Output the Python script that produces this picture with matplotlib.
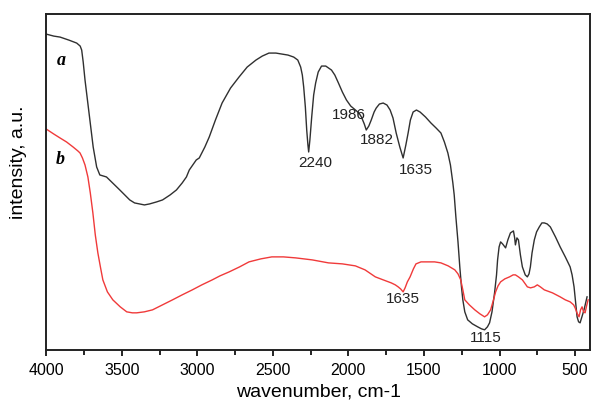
import matplotlib
matplotlib.use("Agg")
import matplotlib.pyplot as plt
from matplotlib.ticker import MultipleLocator

# spectrum a (black)
wn_a = [4000, 3950, 3908, 3850, 3798, 3775, 3765, 3755, 3743, 3727, 3711, 3700,
        3689, 3676, 3666, 3645, 3601, 3560, 3513, 3480, 3447, 3415, 3382, 3350,
        3316, 3270, 3230, 3180, 3138, 3100, 3072, 3053, 3030, 3007, 2987, 2950,
        2921, 2880, 2836, 2780, 2724, 2670, 2612, 2570, 2526, 2480, 2441, 2400,
        2362, 2335, 2316, 2305, 2296, 2285, 2276, 2268, 2263, 2255, 2243, 2230,
        2217, 2200, 2178, 2150, 2112, 2090, 2066, 2040, 2013, 1985, 1954, 1930,
        1914, 1895, 1882, 1865, 1849, 1830, 1816, 1795, 1770, 1745, 1724, 1705,
        1684, 1660, 1638, 1620, 1605, 1590, 1572, 1550, 1526, 1490, 1454, 1420,
        1388, 1365, 1342, 1325, 1309, 1300, 1289, 1275, 1263, 1252, 1243, 1230,
        1211, 1180, 1145, 1120, 1099, 1080, 1066, 1050, 1033, 1020, 1013, 1003,
        993, 980, 960, 945, 928, 908, 900, 895, 885, 875, 862, 849, 830, 816,
        805, 796, 785, 770, 755, 737, 720, 704, 685, 664, 630, 599, 565, 533,
        520, 507, 497, 487, 477, 467, 455, 441, 421]
int_a = [316, 314, 313, 310, 307, 304, 300, 288, 270, 250, 230, 216,
         203, 192, 183, 175, 173, 167, 160, 155, 150, 147, 146, 145,
         146, 148, 150, 155, 160, 167, 173, 180, 185, 190, 192, 203,
         213, 230, 247, 262, 273, 283, 290, 294, 297, 297, 296, 295,
         293, 290, 283, 275, 263, 243, 220, 205, 198, 210, 233, 255,
         267, 278, 284, 284, 280, 275, 267, 258, 250, 244, 240, 237,
         233, 226, 220, 224, 230, 238, 242, 246, 247, 245, 240, 232,
         217, 203, 192, 205, 217, 230, 238, 240, 238, 233, 227, 222,
         217, 208, 197, 185, 167, 155, 133, 108, 83, 63, 50, 38,
         30, 26, 23, 21, 20, 23, 27, 38, 57, 75, 90, 103,
         108, 106, 102, 110, 117, 119, 112, 105, 112, 110, 95, 83, 75, 73,
         76, 83, 97, 110, 118, 123, 127, 127, 126, 123, 113, 103, 93, 83,
         75, 63, 48, 33, 28, 27, 33, 40, 53]

# spectrum b (red)
wn_b = [4000, 3950, 3908, 3865, 3822, 3790, 3776, 3760, 3743, 3724, 3708, 3691,
        3675, 3658, 3640, 3625, 3595, 3559, 3510, 3467, 3430, 3401, 3350, 3296,
        3230, 3164, 3100, 3033, 2970, 2901, 2850, 2789, 2720, 2658, 2580, 2507,
        2430, 2349, 2240, 2132, 2040, 1954, 1890, 1822, 1770, 1717, 1690, 1671,
        1655, 1638, 1625, 1610, 1592, 1570, 1553, 1520, 1474, 1430, 1388, 1340,
        1296, 1275, 1257, 1243, 1230, 1200, 1164, 1130, 1099, 1080, 1059, 1040,
        1026, 1010, 993, 965, 934, 910, 895, 875, 849, 830, 816, 795, 770, 750,
        730, 704, 650, 599, 565, 533, 510, 500, 485, 474, 464, 454, 444, 434,
        424, 414]
int_b = [221, 216, 212, 208, 203, 199, 197, 192, 185, 173, 157, 137,
         115, 97, 82, 70, 58, 50, 43, 38, 37, 37, 38, 40,
         45, 50, 55, 60, 65, 70, 74, 78, 83, 88, 91, 93,
         93, 92, 90, 87, 86, 84, 80, 73, 70, 67, 65, 63,
         61, 58, 62, 68, 73, 81, 86, 88, 88, 88, 87, 84,
         80, 76, 70, 60, 50, 45, 40, 36, 33, 35, 40, 50,
         58, 64, 68, 71, 73, 75, 75, 73, 70, 66, 63, 62, 63, 65,
         63, 60, 57, 53, 50, 48, 45, 42, 36, 33, 40, 43, 38, 37,
         44, 50]

peak_labels = ["2240", "1986", "1882", "1635", "1635", "1115"]
peak_x = [2217, 2000, 1809, 1553, 1638, 1092]
peak_y = [187, 235, 210, 180, 51, 12]

fig = plt.figure(figsize=(5.92, 4.03), dpi=100)
ax = fig.add_axes([0.078, 0.132, 0.919, 0.833])

ax.plot(wn_a, int_a, color="#303030", lw=1.0)
ax.plot(wn_b, int_b, color="#f03a3a", lw=1.0)

for lab, x, y in zip(peak_labels, peak_x, peak_y):
    ax.text(x, y, lab, ha="center", va="center", fontsize=11,
            family="Liberation Sans", color="#222222")

ax.text(3901, 290, "a", ha="center", va="center", fontsize=13,
        family="Liberation Serif", style="italic", weight="bold")
ax.text(3908, 190, "b", ha="center", va="center", fontsize=13,
        family="Liberation Serif", style="italic", weight="bold")

ax.set_xlim(4000, 400)
ax.set_ylim(0, 336)
ax.xaxis.set_major_locator(MultipleLocator(500))
ax.xaxis.set_minor_locator(MultipleLocator(250))
ax.tick_params(axis="x", which="major", direction="out", length=4.5, width=1.2,
               pad=5, labelsize=11.5)
ax.tick_params(axis="x", which="minor", direction="out", length=3.5, width=1.2)
ax.set_yticks([])
for lbl in ax.get_xticklabels():
    lbl.set_family("Liberation Sans")

for s in ax.spines.values():
    s.set_linewidth(1.4)
    s.set_color("#222222")

ax.set_xlabel("wavenumber, cm-1", fontsize=14, family="Liberation Sans", labelpad=4)
ax.set_ylabel("intensity, a.u.", fontsize=14, family="Liberation Sans")
ax.yaxis.set_label_coords(-0.036, 0.56)

fig.savefig("out.png", dpi=100)
